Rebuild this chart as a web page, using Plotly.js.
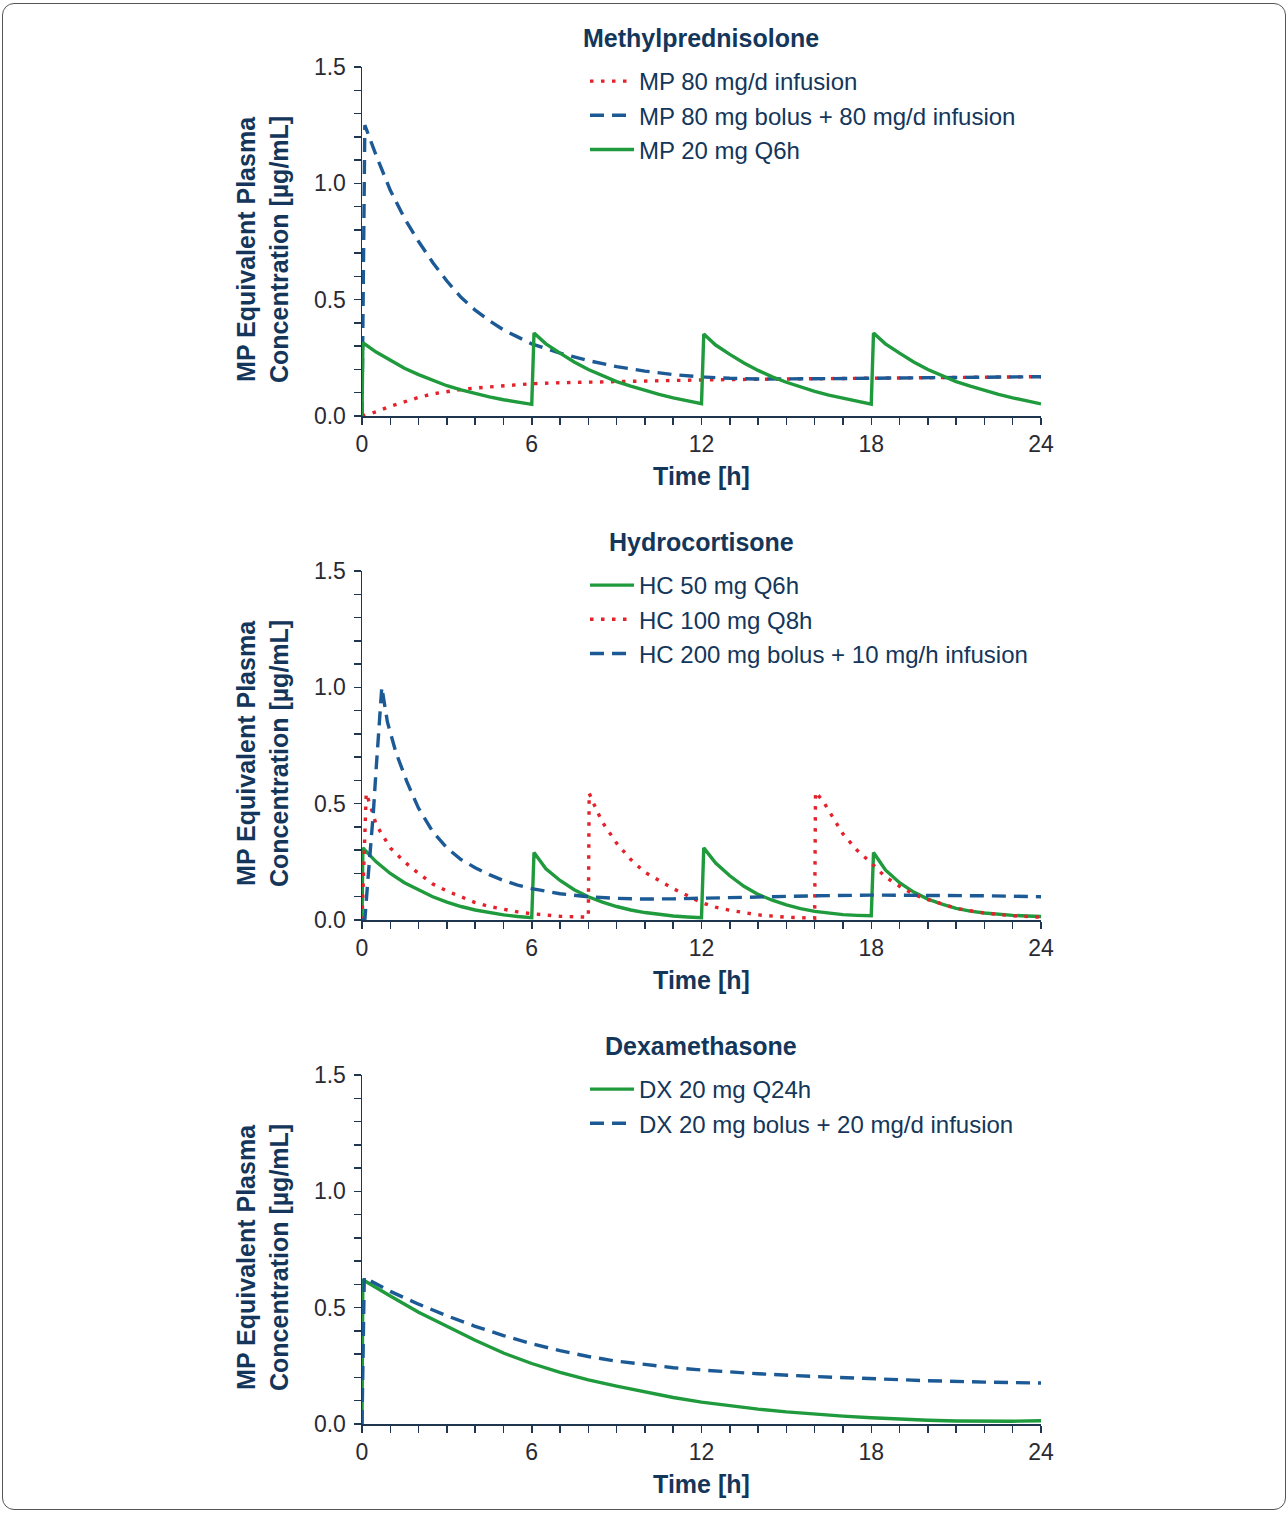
<!DOCTYPE html>
<html>
<head>
<meta charset="utf-8">
<script src="https://cdn.plot.ly/plotly-3.0.1.min.js"></script>
<style>
  html, body { margin: 0; padding: 0; background: #fff; }
  #wrap { position: relative; width: 1288px; height: 1513px; }
  #chart { position: absolute; left: 0; top: 0; width: 1288px; height: 1513px; }
  #frame { position: absolute; left: 2px; top: 3px; width: 1282px; height: 1505px;
           border: 1px solid #555; border-radius: 12px; pointer-events: none; }
</style>
</head>
<body>
<div id="wrap"><div id="chart"></div><div id="frame"></div></div>
<script>
// ---------- Data ----------
// Panel 1: Methylprednisolone
const mpInfT = [0,0.5,1,1.5,2,2.5,3,3.5,4,5,6,7,8,9,10,12,14,16,18,20,22,24];
const mpInfC = [0,0.018,0.042,0.062,0.08,0.095,0.106,0.114,0.12,0.131,0.139,0.143,0.146,0.148,0.15,0.155,0.158,0.16,0.163,0.165,0.167,0.169];

const mpBolT = [0,0.1,0.5,1,1.5,2,2.5,3,3.5,4,4.5,5,5.5,6,7,8,9,10,11,12,13,14,16,18,20,22,24];
const mpBolC = [0,1.25,1.12,0.97,0.85,0.75,0.66,0.58,0.51,0.455,0.41,0.37,0.34,0.31,0.27,0.238,0.212,0.193,0.178,0.168,0.162,0.159,0.16,0.163,0.165,0.167,0.169];

const mpQ6T = [0,0.03,0.5,1,1.5,2,2.5,3,3.5,4,4.5,5,5.5,6,
               6.08,6.5,7,7.5,8,8.5,9,9.5,10,10.5,11,11.5,12,
               12.08,12.5,13,13.5,14,14.5,15,15.5,16,16.5,17,17.5,18,
               18.08,18.5,19,19.5,20,20.5,21,21.5,22,22.5,23,23.5,24];
const mpQ6C = [0,0.315,0.275,0.24,0.205,0.178,0.152,0.13,0.112,0.096,0.082,0.07,0.06,0.05,
               0.357,0.31,0.27,0.232,0.2,0.172,0.148,0.128,0.11,0.093,0.078,0.065,0.053,
               0.352,0.305,0.265,0.228,0.196,0.168,0.145,0.125,0.106,0.09,0.076,0.063,0.051,
               0.357,0.31,0.27,0.232,0.2,0.172,0.148,0.128,0.11,0.093,0.078,0.064,0.052];

// Panel 2: Hydrocortisone
const hc50T = [0,0.03,0.5,1,1.5,2,2.5,3,3.5,4,4.5,5,5.5,6,
               6.08,6.5,7,7.5,8,8.5,9,9.5,10,10.5,11,11.5,12,
               12.08,12.5,13,13.5,14,14.5,15,15.5,16,16.5,17,17.5,18,
               18.08,18.5,19,19.5,20,20.5,21,21.5,22,22.5,23,23.5,24];
const hc50C = [0,0.31,0.25,0.2,0.16,0.128,0.1,0.077,0.058,0.043,0.031,0.022,0.015,0.01,
               0.29,0.22,0.17,0.13,0.1,0.077,0.058,0.043,0.032,0.024,0.017,0.013,0.01,
               0.31,0.245,0.19,0.145,0.11,0.085,0.065,0.049,0.037,0.029,0.023,0.02,0.018,
               0.29,0.215,0.16,0.12,0.09,0.068,0.05,0.038,0.03,0.024,0.02,0.017,0.015];

const hc100T = [0,0.15,0.3,0.5,1,1.5,2,2.5,3,3.5,4,4.5,5,5.5,6,7,8,8.03,8.3,8.5,9,9.5,10,10.5,11,11.5,12,12.5,13,14,15,16,16.03,16.3,16.6,17,17.5,18,18.5,19,19.5,20,21,22,23,24];
const hc100C = [0,0.545,0.49,0.41,0.31,0.25,0.2,0.155,0.125,0.1,0.075,0.058,0.045,0.035,0.027,0.016,0.012,0.545,0.47,0.42,0.33,0.26,0.205,0.168,0.135,0.105,0.075,0.055,0.042,0.022,0.012,0.008,0.55,0.51,0.45,0.37,0.3,0.245,0.185,0.145,0.11,0.088,0.05,0.03,0.018,0.012];

const hcBolT = [0,0.1,0.2,0.3,0.4,0.5,0.6,0.7,0.9,1.2,1.6,2,2.5,3,3.5,4,4.5,5,5.5,6,7,8,9,10,11,12,14,16,18,20,22,24];
const hcBolC = [0,0,0.16,0.3,0.46,0.65,0.84,1.0,0.85,0.72,0.59,0.48,0.38,0.31,0.26,0.225,0.195,0.17,0.15,0.135,0.113,0.1,0.093,0.09,0.091,0.094,0.1,0.104,0.107,0.106,0.104,0.1];

// Panel 3: Dexamethasone
const dxQ24T = [0,0.03,1,2,3,4,5,6,7,8,9,10,11,12,13,14,15,16,17,18,19,20,21,22,23,24];
const dxQ24C = [0,0.62,0.55,0.48,0.42,0.36,0.305,0.26,0.222,0.19,0.163,0.138,0.114,0.094,0.078,0.064,0.052,0.042,0.034,0.027,0.021,0.016,0.013,0.011,0.012,0.014];

const dxBolT = [0,0.08,1,2,3,4,5,6,7,8,9,10,11,12,14,16,18,20,22,24];
const dxBolC = [0,0.63,0.57,0.515,0.465,0.42,0.38,0.345,0.315,0.29,0.27,0.255,0.242,0.232,0.216,0.204,0.194,0.186,0.18,0.176];

const panelTitles = ["Methylprednisolone", "Hydrocortisone", "Dexamethasone"];
const yTitleText = "MP Equivalent Plasma<br>Concentration [µg/mL]";
const xTitleText = "Time [h]";
const xTickVals = [0, 6, 12, 18, 24];
const yTickVals = [0, 0.5, 1.0, 1.5];
const yTickText = ["0.0", "0.5", "1.0", "1.5"];

// ---------- Styles ----------
const RED = '#e3222b', BLUE = '#1c5a96', GREEN = '#1f9a3c';
const NAVY = '#14365a', AXIS = '#1f3550', TICKTXT = '#2a2a33';
const FONT = 'Liberation Sans, Arial, Helvetica, sans-serif';
const W = 3.4;
const solid = c => ({color: c, width: W, dash: 'solid'});
const dashed = c => ({color: c, width: W, dash: '14px,8px'});
const dotted = c => ({color: c, width: W, dash: '3.5px,7.5px'});

function tr(x, y, name, line, ax, leg) {
  return {x, y, name, type: 'scatter', mode: 'lines', line,
          xaxis: 'x' + ax, yaxis: 'y' + ax, legend: leg};
}

const traces = [
  tr(mpInfT, mpInfC, 'MP 80 mg/d infusion', dotted(RED), '', 'legend'),
  tr(mpBolT, mpBolC, 'MP 80 mg bolus + 80 mg/d infusion', dashed(BLUE), '', 'legend'),
  tr(mpQ6T, mpQ6C, 'MP 20 mg Q6h', solid(GREEN), '', 'legend'),
  tr(hc50T, hc50C, 'HC 50 mg Q6h', solid(GREEN), '2', 'legend2'),
  tr(hc100T, hc100C, 'HC 100 mg Q8h', dotted(RED), '2', 'legend2'),
  tr(hcBolT, hcBolC, 'HC 200 mg bolus + 10 mg/h infusion', dashed(BLUE), '2', 'legend2'),
  tr(dxQ24T, dxQ24C, 'DX 20 mg Q24h', solid(GREEN), '3', 'legend3'),
  tr(dxBolT, dxBolC, 'DX 20 mg bolus + 20 mg/d infusion', dashed(BLUE), '3', 'legend3'),
];

const H = 1513, WID = 1288;
const xDom = [362 / WID, 1041 / WID];
const yDoms = [[1 - 416 / H, 1 - 67 / H], [1 - 920 / H, 1 - 571 / H], [1 - 1424 / H, 1 - 1075 / H]];

function xAxis(anchor, dom) {
  return {
    domain: dom, anchor, range: [0, 24], tickvals: xTickVals, ticks: 'outside', ticklen: 7, tickwidth: 1.5,
    tickcolor: AXIS, showline: true, linecolor: AXIS, linewidth: 1.5, showgrid: false, zeroline: false,
    tickfont: {family: FONT, size: 23, color: TICKTXT},
    minor: {dtick: 1, ticks: 'outside', ticklen: 7, tickwidth: 1.5, tickcolor: AXIS, showgrid: false},
    title: {text: xTitleText, font: {family: FONT, size: 25, color: NAVY, weight: 'bold'}, standoff: 11},
  };
}
function yAxis(anchor, dom) {
  return {
    domain: dom, anchor, range: [0, 1.5], tickvals: yTickVals, ticktext: yTickText, ticks: 'outside', ticklen: 7,
    tickwidth: 1.5, tickcolor: AXIS, showline: true, linecolor: AXIS, linewidth: 1.5, showgrid: false, zeroline: false,
    tickfont: {family: FONT, size: 23, color: TICKTXT}, ticklabelstandoff: 3,
    minor: {dtick: 0.1, ticks: 'outside', ticklen: 7, tickwidth: 1.5, tickcolor: AXIS, showgrid: false},
  };
}

function legendAt(yTop) {
  return {x: 585 / WID, y: 1 - yTop / H, xanchor: 'left', yanchor: 'top', bgcolor: 'rgba(0,0,0,0)',
          font: {family: FONT, size: 24, color: NAVY}, itemwidth: 44, tracegroupgap: 0};
}

const titleAnns = panelTitles.map((t, i) => ({
  text: '<b>' + t + '</b>', xref: 'paper', yref: 'paper', x: (xDom[0] + xDom[1]) / 2,
  y: yDoms[i][1] + 29 / H, xanchor: 'center', yanchor: 'middle', showarrow: false,
  font: {family: FONT, size: 25, color: NAVY}
}));
const yTitleAnns = yDoms.map(d => ({
  text: '<b>' + yTitleText + '</b>', xref: 'paper', yref: 'paper', x: 262.5 / WID,
  y: (d[0] + d[1]) / 2 - 8 / H, xanchor: 'center', yanchor: 'middle', showarrow: false, textangle: -90,
  font: {family: FONT, size: 25, color: NAVY}
}));

const layout = {
  width: WID, height: H, margin: {l: 0, r: 0, t: 0, b: 0}, paper_bgcolor: '#fff', plot_bgcolor: '#fff',
  showlegend: true, font: {family: FONT, color: NAVY},
  xaxis: xAxis('y', xDom), yaxis: yAxis('x', yDoms[0]),
  xaxis2: xAxis('y2', xDom), yaxis2: yAxis('x2', yDoms[1]),
  xaxis3: xAxis('y3', xDom), yaxis3: yAxis('x3', yDoms[2]),
  legend: legendAt(59), legend2: legendAt(563), legend3: legendAt(1067),
  annotations: titleAnns.concat(yTitleAnns),
};

Plotly.newPlot('chart', traces, layout, {staticPlot: true, displayModeBar: false});
</script>
</body>
</html>
